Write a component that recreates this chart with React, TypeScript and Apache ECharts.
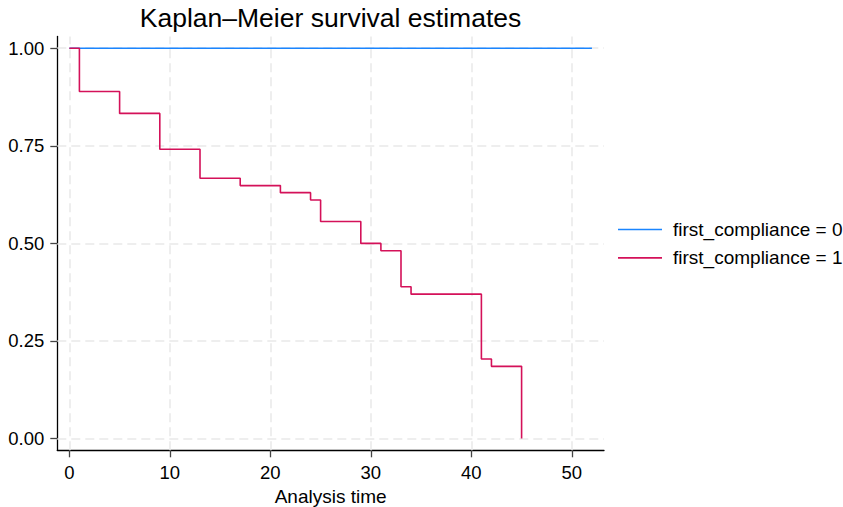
import React, { useEffect, useRef } from "react";
import * as echarts from "echarts";

const FONT = '"Liberation Sans", Arial, Helvetica, sans-serif';

const titleText = "Kaplan–Meier survival estimates";
const xAxisTitle = "Analysis time";

const seriesNames = ["first_compliance = 0", "first_compliance = 1"];
const seriesColors = ["#1a85ff", "#d41159"];

const timesGroup0 = [0, 52];
const survGroup0 = [1, 1];

const timesGroup1 = [0, 1, 5, 9, 13, 17, 21, 24, 25, 29, 31, 33, 34, 41, 42, 45];
const survGroup1 = [1, 0.889, 0.833, 0.741, 0.667, 0.648, 0.63, 0.611, 0.556, 0.5, 0.481, 0.389, 0.37, 0.204, 0.185, 0];

const xTicks = [0, 10, 20, 30, 40, 50];
const yTicks = [0, 0.25, 0.5, 0.75, 1];

export default function App() {
  const ref = useRef<HTMLDivElement>(null);
  useEffect(() => {
    if (!ref.current) return;
    const chart = echarts.init(ref.current, null, { renderer: "svg" });
    const pair = (t: number[], s: number[]) => t.map((v, i) => [v, s[i]]);
    const gridStyle = { color: "#e9e9e9", width: 1.5, type: [9, 5] as any };
    chart.setOption({
      animation: false,
      backgroundColor: "#ffffff",
      textStyle: { fontFamily: FONT },
      title: {
        text: titleText,
        left: 330.5,
        textAlign: "center",
        top: 4,
        padding: 0,
        textStyle: { fontFamily: FONT, fontSize: 26.5, fontWeight: "normal", color: "#000" },
      },
      legend: {
        orient: "vertical",
        left: 618,
        top: 220,
        padding: 0,
        icon: "rect",
        itemWidth: 44,
        itemHeight: 1.6,
        itemGap: 9.4,
        data: seriesNames,
        textStyle: { fontFamily: FONT, fontSize: 19, lineHeight: 18, color: "#000", padding: [0, 0, 0, 6] },
      },
      grid: {
        left: 57.3,
        top: 36.5,
        width: 546.7,
        height: 413.8,
        containLabel: false,
        outerBoundsMode: "none",
      },
      xAxis: {
        type: "value",
        min: -1.2,
        max: 53.2,
        name: xAxisTitle,
        nameLocation: "middle",
        nameGap: 35,
        nameTextStyle: { fontFamily: FONT, fontSize: 19, lineHeight: 19, color: "#000" },
        axisLine: { show: true, onZero: false, lineStyle: { color: "#000", width: 1.3 } },
        axisTick: { show: true, length: 7, customValues: xTicks, lineStyle: { color: "#444", width: 1.3 } },
        axisLabel: { customValues: xTicks, margin: 13, fontSize: 18.5, color: "#000", fontFamily: FONT },
        splitLine: { show: false },
      },
      yAxis: {
        type: "value",
        min: -0.03,
        max: 1.03,
        axisLine: { show: true, onZero: false, lineStyle: { color: "#000", width: 1.3 } },
        axisTick: { show: true, length: 7, customValues: yTicks, lineStyle: { color: "#444", width: 1.3 } },
        axisLabel: {
          customValues: yTicks,
          margin: 13,
          fontSize: 18.5,
          color: "#000",
          fontFamily: FONT,
          formatter: (v: number) => v.toFixed(2),
        },
        splitLine: { show: false },
      },
      series: [
        {
          name: "grid",
          type: "line",
          data: [],
          silent: true,
          z: 1,
          markLine: {
            silent: true,
            z: 1,
            symbol: ["none", "none"],
            label: { show: false },
            lineStyle: gridStyle,
            emphasis: { disabled: true },
            data: [
              ...xTicks.map((v) => ({ xAxis: v })),
              ...yTicks.map((v) => ({ yAxis: v })),
            ],
          },
        },
        {
          name: seriesNames[0],
          type: "line",
          step: "end",
          z: 3,
          symbol: "none",
          color: seriesColors[0],
          lineStyle: { color: seriesColors[0], width: 1.6 },
          data: pair(timesGroup0, survGroup0),
        },
        {
          name: seriesNames[1],
          type: "line",
          step: "end",
          z: 4,
          symbol: "none",
          color: seriesColors[1],
          lineStyle: { color: seriesColors[1], width: 1.6 },
          data: pair(timesGroup1, survGroup1),
        },
      ],
    });
    return () => chart.dispose();
  }, []);
  return (
    <div
      ref={ref}
      style={{ position: "fixed", left: 0, top: 0, width: 843, height: 507, background: "#fff" }}
    />
  );
}
